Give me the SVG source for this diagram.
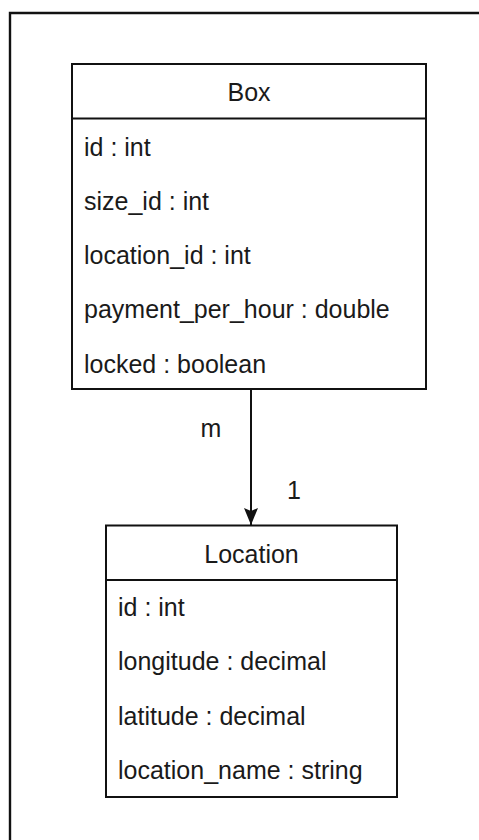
<svg xmlns="http://www.w3.org/2000/svg" width="479" height="840" viewBox="0 0 479 840">
  <style>
    .frame { fill: none; stroke: #111; stroke-width: 2.4; }
    .cls { fill: #fff; stroke: #111; stroke-width: 2; }
    .sep { stroke: #111; stroke-width: 2; }
    text { font-family: "Liberation Sans", Arial, Helvetica, sans-serif; font-size: 25px; fill: #1a1a1a; }
    .title { text-anchor: middle; }
    .edge { fill: none; stroke: #111; stroke-width: 2; }
  </style>
  <defs>
    <!-- filled arrowhead, tip on the +x axis so orient="auto" points it along the line -->
    <marker id="arrow" markerUnits="userSpaceOnUse" markerWidth="20" markerHeight="16" refX="18" refY="8" orient="auto" viewBox="0 0 20 16">
      <path d="M18,8 L1,1 L4,8 L1,15 Z" fill="#111"/>
    </marker>
  </defs>

  <rect width="479" height="840" fill="#fff"/>

  <!-- page frame -->
  <path class="frame" d="M10,850 V13 H490"/>

  <!-- Box class -->
  <g id="box">
    <rect class="cls" x="72" y="64" width="354" height="325"/>
    <line class="sep" x1="72" y1="118.5" x2="426" y2="118.5"/>
    <text class="title" x="249" y="100.5">Box</text>
    <text x="84" y="156">id : int</text>
    <text x="84" y="210">size_id : int</text>
    <text x="84" y="264">location_id : int</text>
    <text x="84" y="318">payment_per_hour : double</text>
    <text x="84" y="372.5">locked : boolean</text>
  </g>

  <!-- Location class -->
  <g id="location">
    <rect class="cls" x="106" y="525.5" width="291" height="271.5"/>
    <line class="sep" x1="106" y1="580" x2="397" y2="580"/>
    <text class="title" x="251.5" y="562.5">Location</text>
    <text x="118" y="616">id : int</text>
    <text x="118" y="670.3">longitude : decimal</text>
    <text x="118" y="724.6">latitude : decimal</text>
    <text x="118" y="779">location_name : string</text>
  </g>

  <!-- association -->
  <g id="connectors">
    <line class="edge" x1="251" y1="389" x2="251" y2="525" marker-end="url(#arrow)"/>
    <text class="title" x="211" y="436.5">m</text>
    <text class="title" x="294" y="499">1</text>
  </g>
</svg>
